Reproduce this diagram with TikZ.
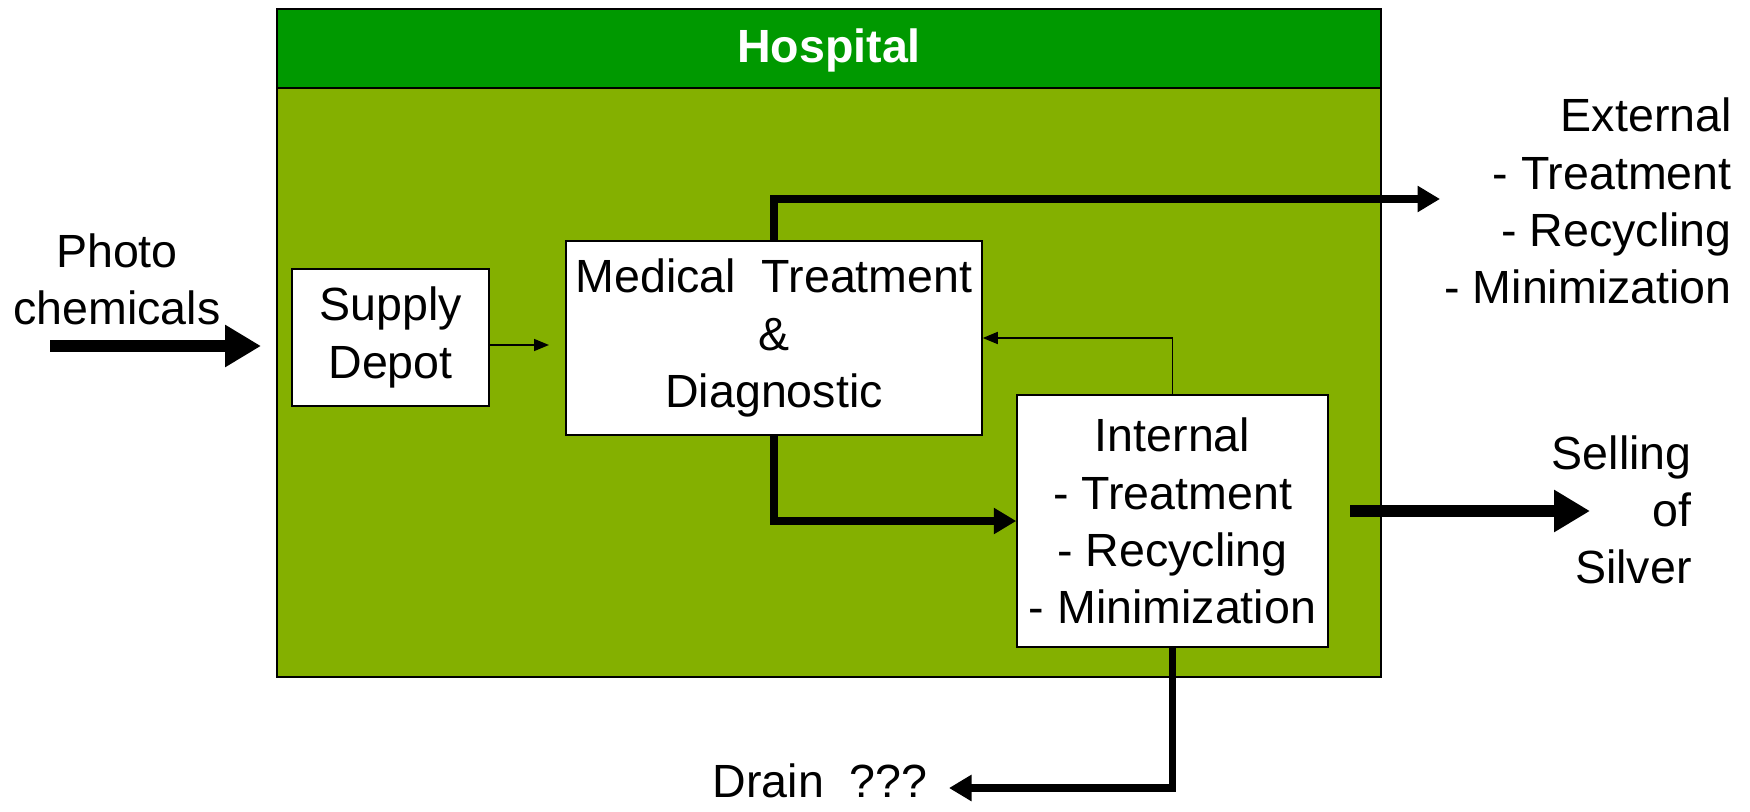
\documentclass[tikz,border=0pt]{standalone}
\usepackage{fontspec}
\setmainfont{Liberation Sans}
\usetikzlibrary{arrows.meta,positioning}
\definecolor{hosphead}{RGB}{0,153,0}
\definecolor{hospbody}{RGB}{132,176,0}

\begin{document}
\begin{tikzpicture}[x=0.02cm,y=-0.02cm,
  every node/.style={font=\fontsize{26.5}{32.5}\selectfont,inner sep=0pt},
  unitbox/.style={draw,fill=white,line width=.9pt,align=center},
  bigflow/.style={line width=6.8pt,-{Triangle[length=0.72cm,width=0.8cm]}},
  flow/.style={line width=4pt,-{Triangle[length=0.45cm,width=0.5cm]}},
  thinflow/.style={line width=.9pt,-{Triangle[length=0.3cm,width=0.24cm]}}]
\useasboundingbox (0,0) rectangle (1750,811);
\fill[hospbody] (277,88) rectangle (1381,677);
\fill[hosphead] (277,9) rectangle (1381,88);
\draw[line width=.9pt] (277,9) rectangle (1381,677);
\draw[line width=.9pt] (277,88) -- (1381,88);
\node[text=white,font=\fontsize{26.5}{32.5}\selectfont\bfseries] (hosp) at (829,50) {Hospital};
\node[unitbox,minimum width=3.94cm,minimum height=2.74cm] (supply) at (390.5,337.5) {Supply\\Depot};
\node[unitbox,minimum width=8.32cm,minimum height=3.88cm] (medical) at (774,338) {Medical\ \ Treatment\\\&\\Diagnostic};
\node[unitbox,minimum width=6.22cm,minimum height=5.04cm] (internal) at (1172.5,521) {Internal\\- Treatment\\- Recycling\\- Minimization};
\node[align=center] (photo) at (117,279) {Photo\\chemicals};
\node[align=right,anchor=east] (external) at (1732,201) {External\\- Treatment\\- Recycling\\- Minimization};
\node[align=right,anchor=east] (selling) at (1692,510) {Selling\\of\\Silver};
\node[anchor=east] (drain) at (928,781) {Drain\ \ ???};
\coordinate (pin) at (50,346);
\coordinate (pout) at (261,346);
\coordinate (sd) at (549,345);
\coordinate (ext) at (1440,199);
\coordinate (sin) at (1350,511);
\coordinate (sout) at (1590,511);
\coordinate (dr) at (949,788);
\draw[bigflow] (pin) -- (pout);
\draw[thinflow] (supply.east |- sd) -- (sd);
\draw[flow] (medical.north) |- (ext);
\draw[flow] (medical.south) |- (internal.west);
\draw[thinflow] (internal.north) |- (medical.east);
\draw[bigflow] (sin) -- (sout);
\draw[flow] (internal.south) |- (dr);
\end{tikzpicture}
\end{document}
